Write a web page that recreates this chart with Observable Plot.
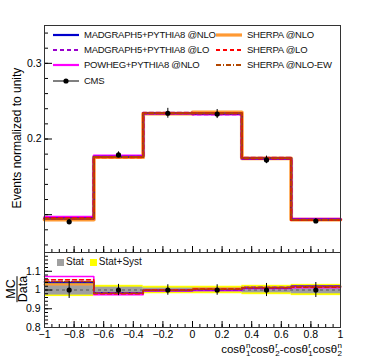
<!DOCTYPE html>
<html><head><meta charset="utf-8">
<script src="https://cdn.jsdelivr.net/npm/d3@7"></script>
<script src="https://cdn.jsdelivr.net/npm/@observablehq/plot@0.6"></script>
<style>
body{margin:0;background:#fff;font-family:"Liberation Sans",Arial,sans-serif;}
#wrap{position:relative;width:370px;height:360px;overflow:hidden;}
#wrap svg{display:block;position:absolute;left:0}
.lg{position:absolute;font-size:9.5px;letter-spacing:-0.25px;color:#111;white-space:nowrap;line-height:12px;display:flex;align-items:center}
.lg svg{position:static !important}
.ss{display:inline-flex;flex-direction:column;font-size:8px;line-height:8px;vertical-align:middle;margin-left:0.5px}
</style></head><body><div id="wrap"></div>
<script>
// ---- data ----
const binEdges = [-1, -0.6667, -0.3333, 0, 0.3333, 0.6667, 1];
const binCenters = [-0.8333, -0.5, -0.1667, 0.1667, 0.5, 0.8333];

const seriesNames = ["MADGRAPH5+PYTHIA8 @NLO", "MADGRAPH5+PYTHIA8 @LO", "POWHEG+PYTHIA8 @NLO",
                     "SHERPA @NLO", "SHERPA @LO", "SHERPA @NLO-EW"];

const mg5NLO    = [0.0950, 0.1765, 0.2340, 0.2335, 0.1745, 0.0935];
const mg5LO     = [0.0955, 0.1765, 0.2345, 0.2330, 0.1750, 0.0935];
const powheg    = [0.0970, 0.1780, 0.2335, 0.2325, 0.1740, 0.0945];
const sherpaNLO = [0.0935, 0.1760, 0.2335, 0.2350, 0.1745, 0.0935];
const sherpaLO  = [0.0950, 0.1760, 0.2340, 0.2340, 0.1745, 0.0930];
const sherpaEW  = [0.0945, 0.1762, 0.2340, 0.2340, 0.1748, 0.0932];

const cmsData   = [0.0905, 0.1790, 0.2340, 0.2330, 0.1724, 0.0916];
const cmsErr    = [0.0030, 0.0040, 0.0065, 0.0060, 0.0050, 0.0030];

const rMg5NLO    = [1.040, 0.985, 0.998, 1.003, 1.012, 1.020];
const rMg5LO     = [1.045, 0.985, 1.000, 1.000, 1.015, 1.020];
const rPowheg    = [1.072, 0.975, 0.995, 0.998, 1.008, 1.012];
const rSherpaNLO = [1.030, 0.982, 0.998, 1.008, 1.012, 1.020];
const rSherpaLO  = [1.055, 0.980, 1.000, 1.005, 1.012, 1.015];
const rSherpaEW  = [1.045, 0.983, 0.999, 1.004, 1.013, 1.018];

const ratioDataErr = [0.045, 0.030, 0.028, 0.028, 0.035, 0.040];
const statBand     = [0.027, 0.015, 0.010, 0.010, 0.015, 0.020];
const totalBand    = [0.035, 0.025, 0.020, 0.020, 0.025, 0.030];

const topYTicks = [0.1, 0.2, 0.3];
const topYLabels = ["", "0.2", "0.3"];
const ratioYTicks = [0.8, 0.9, 1.0, 1.1];
const ratioYLabels = ["0.8", "0.9", "1", "1.1"];
const xTicks = [-1, -0.8, -0.6, -0.4, -0.2, 0, 0.2, 0.4, 0.6, 0.8, 1];
const xLabels = ["−1", "−0.8", "−0.6", "−0.4", "−0.2", "0", "0.2", "0.4", "0.6", "0.8", "1"];

// ---- styles ----
const styles = [
  {stroke:"#0000cc", w:2.2, dash:null},
  {stroke:"#9900cc", w:2.2, dash:"4,3"},
  {stroke:"#ff00ff", w:2.2, dash:null},
  {stroke:"#ff9933", w:3.8, dash:null},
  {stroke:"#ff0000", w:2.2, dash:"4,3"},
  {stroke:"#b34700", w:1.8, dash:"5,2,1,2"}
];
const topVals = [mg5NLO, mg5LO, powheg, sherpaNLO, sherpaLO, sherpaEW];
const ratioVals = [rMg5NLO, rMg5LO, rPowheg, rSherpaNLO, rSherpaLO, rSherpaEW];
const drawOrder = [3, 2, 0, 1, 4, 5];

function steps(vals){ return binEdges.map((e,i)=>({x:e, y:vals[Math.min(i, vals.length-1)]})); }
function range(a,b,s){ const r=[]; for(let v=a; v<=b+1e-9; v+=s) r.push(+v.toFixed(4)); return r; }

const font = "Liberation Sans, Arial, sans-serif";
const wrap = document.getElementById("wrap");

// ---- top panel ----
const topMarks = [];
for (const i of drawOrder) {
  topMarks.push(Plot.line(steps(topVals[i]), {x:"x", y:"y", curve:"step-after",
    stroke:styles[i].stroke, strokeWidth:styles[i].w, strokeDasharray:styles[i].dash}));
}
const dataRows = binCenters.map((c,i)=>({x:c, y:cmsData[i], lo:cmsData[i]-cmsErr[i], hi:cmsData[i]+cmsErr[i]}));
topMarks.push(Plot.ruleX(dataRows, {x:"x", y1:"lo", y2:"hi", stroke:"black", strokeWidth:1}));
topMarks.push(Plot.dot(dataRows, {x:"x", y:"y", r:2.6, fill:"black"}));
topMarks.push(Plot.axisY(topYTicks, {tickSize:0, tickPadding:3, tickFormat:(d,i)=>topYLabels[i], fontSize:10.5, label:null}));
topMarks.push(Plot.axisY(topYTicks, {tickSize:-8, tickFormat:()=> "", label:null}));
topMarks.push(Plot.axisY(range(0.06,0.34,0.02), {tickSize:-4, tickFormat:()=> "", label:null}));
topMarks.push(Plot.axisX(range(-1,1,0.2), {anchor:"bottom", tickSize:-6, tickFormat:()=> "", label:null}));
topMarks.push(Plot.axisX(range(-1,1,0.05), {anchor:"bottom", tickSize:-3, tickFormat:()=> "", label:null}));
topMarks.push(Plot.frame({stroke:"#333"}));

const topPlot = Plot.plot({
  width:370, height:252, marginTop:25, marginBottom:0, marginLeft:44, marginRight:30,
  x:{domain:[-1,1]}, y:{domain:[0.05,0.35]},
  style:{fontFamily:font, fontSize:"11px", background:"transparent", overflow:"visible"},
  marks: topMarks
});
topPlot.style.top = "0px";
wrap.appendChild(topPlot);

// ---- ratio panel ----
const bandRows = binCenters.map((c,i)=>({x1:binEdges[i], x2:binEdges[i+1],
  s1:1-statBand[i], s2:1+statBand[i], t1:1-totalBand[i], t2:1+totalBand[i]}));
const rMarks = [
  Plot.rect(bandRows, {x1:"x1", x2:"x2", y1:"t1", y2:"t2", fill:"#ffff00"}),
  Plot.rect(bandRows, {x1:"x1", x2:"x2", y1:"s1", y2:"s2", fill:"#a0a0a0"}),
  Plot.ruleY([1], {stroke:"#555", strokeDasharray:"3,3", strokeWidth:1})
];
for (const i of drawOrder) {
  rMarks.push(Plot.line(steps(ratioVals[i]), {x:"x", y:"y", curve:"step-after",
    stroke:styles[i].stroke, strokeWidth: i===3 ? 2 : 1.5, strokeDasharray:styles[i].dash}));
}
const rRows = binCenters.map((c,i)=>({x:c, y:1, lo:1-ratioDataErr[i], hi:1+ratioDataErr[i]}));
rMarks.push(Plot.ruleX(rRows, {x:"x", y1:"lo", y2:"hi", stroke:"black", strokeWidth:1}));
rMarks.push(Plot.dot(rRows, {x:"x", y:"y", r:2.6, fill:"black"}));
rMarks.push(Plot.axisY(ratioYTicks, {tickSize:0, tickPadding:4, tickFormat:(d,i)=>ratioYLabels[i], fontSize:10.5, label:null}));
rMarks.push(Plot.axisY(ratioYTicks, {tickSize:-8, tickFormat:()=> "", label:null}));
rMarks.push(Plot.axisY(range(0.82,1.18,0.02), {tickSize:-4, tickFormat:()=> "", label:null}));
rMarks.push(Plot.axisX(xTicks, {anchor:"bottom", tickSize:0, tickPadding:3, tickFormat:(d,i)=>xLabels[i], fontSize:10.5, label:null}));
rMarks.push(Plot.axisX(xTicks, {anchor:"bottom", tickSize:-6, tickFormat:()=> "", label:null}));
rMarks.push(Plot.axisX(range(-1,1,0.05), {anchor:"bottom", tickSize:-3, tickFormat:()=> "", label:null}));
rMarks.push(Plot.frame({stroke:"#333"}));

const bottomPlot = Plot.plot({
  width:370, height:108, marginTop:0, marginBottom:33, marginLeft:44, marginRight:30,
  x:{domain:[-1,1]}, y:{domain:[0.8,1.2]},
  style:{fontFamily:font, fontSize:"11px", background:"transparent", overflow:"visible"},
  marks: rMarks
});
bottomPlot.style.top = "252px";
wrap.appendChild(bottomPlot);

// ---- legends & titles (HTML) ----
function sample(st, cms){
  if (cms) return `<svg width="26" height="10"><line x1="0" y1="5" x2="26" y2="5" stroke="black" stroke-width="1"/><circle cx="13" cy="5" r="2.6" fill="black"/></svg>`;
  return `<svg width="26" height="10"><line x1="0" y1="5" x2="26" y2="5" stroke="${st.stroke}" stroke-width="${Math.min(st.w,3.2)}" ${st.dash?`stroke-dasharray="${st.dash}"`:""}/></svg>`;
}
const legendPos = [[53,35],[53,50],[53,65],[216,35],[216,50],[216,65]];
seriesNames.forEach((n,i)=>{
  const d=document.createElement("div"); d.className="lg";
  d.style.left=legendPos[i][0]+"px"; d.style.top=(legendPos[i][1]-6)+"px";
  d.innerHTML = sample(styles[i]) + `<span style="margin-left:5px">${n}</span>`;
  wrap.appendChild(d);
});
{
  const d=document.createElement("div"); d.className="lg";
  d.style.left="53px"; d.style.top=(81-6)+"px";
  d.innerHTML = sample(null,true) + `<span style="margin-left:5px">CMS</span>`;
  wrap.appendChild(d);
}
{
  const d=document.createElement("div"); d.className="lg";
  d.style.left="57px"; d.style.top="256px"; d.style.fontSize="10px"; d.style.letterSpacing="0";
  d.innerHTML = `<span style="display:inline-block;width:7px;height:7px;background:#a0a0a0"></span><span style="margin-left:2px">Stat</span>`+
    `<span style="display:inline-block;width:7px;height:7px;background:#ffff00;margin-left:6px"></span><span style="margin-left:2px">Stat+Syst</span>`;
  wrap.appendChild(d);
}
{
  const d=document.createElement("div");
  d.style.cssText="position:absolute;left:17px;top:138px;transform:translate(-50%,-50%) rotate(-90deg);font-size:12px;white-space:nowrap";
  d.textContent="Events normalized to unity";
  wrap.appendChild(d);
}
{
  const d=document.createElement("div");
  d.style.cssText="position:absolute;left:17px;top:289px;transform:translate(-50%,-50%) rotate(-90deg);font-size:12.5px;white-space:nowrap;display:flex;flex-direction:column;align-items:center;line-height:11px";
  d.innerHTML=`<span>MC</span><span style="border-top:1px solid #000;padding-top:0px">Data</span>`;
  wrap.appendChild(d);
}
{
  const d=document.createElement("div");
  d.style.cssText="position:absolute;right:28px;top:342px;font-size:11.5px;white-space:nowrap";
  const t=(a,b)=>`cosθ<span class="ss"><span>${b}</span><span>${a}</span></span>`;
  d.innerHTML = t("1","n")+t("2","r")+"-"+t("1","r")+t("2","n");
  wrap.appendChild(d);
}
</script></body></html>
